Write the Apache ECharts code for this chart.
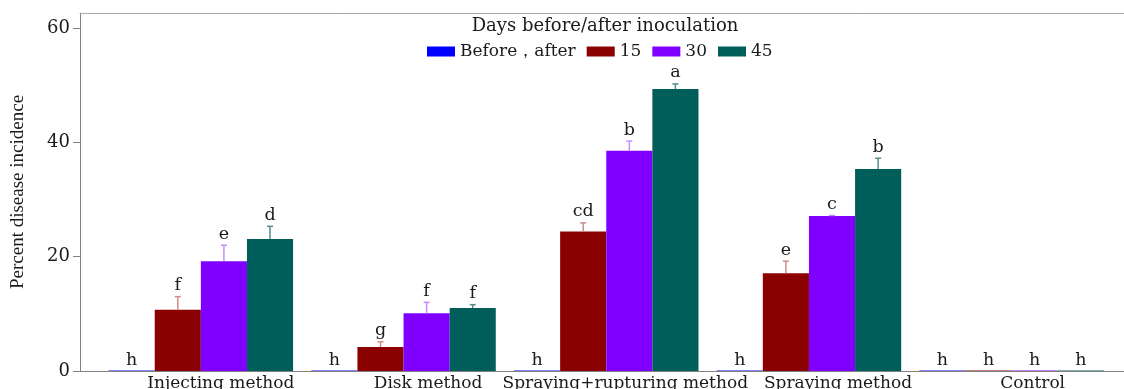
<!DOCTYPE html>
<html><head><meta charset="utf-8">
<script src="https://cdn.jsdelivr.net/npm/echarts@6/dist/echarts.min.js"></script>
<style>html,body{margin:0;padding:0;background:#fff}#c{width:1124px;height:389px}</style>
</head><body><div id="c"></div>
<script>
const categories = ['Injecting method','Disk method','Spraying+rupturing method','Spraying method','Control'];
const seriesNames = ['Before\uff0cafter','15','30','45'];
const valBefore = [0,0,0,0,0];
const val15 = [10.7, 4.2, 24.4, 17.1, 0];
const val30 = [19.2, 10.1, 38.5, 27.1, 0];
const val45 = [23.1, 11.0, 49.3, 35.3, 0];
const errBefore = [0,0,0,0,0];
const err15 = [2.3, 0.9, 1.5, 2.1, 0];
const err30 = [2.8, 1.9, 1.7, 0.1, 0];
const err45 = [2.2, 0.6, 0.9, 1.9, 0];
const letBefore = ['h','h','h','h','h'];
const let15 = ['f','g','cd','e','h'];
const let30 = ['e','f','b','c','h'];
const let45 = ['d','f','a','b','h'];
const yTicks = [0,20,40,60];

const values = [valBefore, val15, val30, val45];
const errs = [errBefore, err15, err30, err45];
const letters = [letBefore, let15, let30, let45];
const colors = ['#0000ff','#8b0000','#8000ff','#005e5a'];
const errColors = ['#8080ff','#d08a8a','#c68cff','#4f8f8c'];
const labelShift = [40, 49, 38, 58, 42];
const GAP = 0.09;
const FONT = 'DejaVu Serif';
const YMAX = 62.6;

function makeRender(k){
  return function(params, api){
    const ci = api.value(0), v = api.value(1), e = api.value(2);
    const band = api.size([1,0])[0];
    const bw = band*(1-GAP)/4;
    const c = api.coord([ci, v]);
    const x = c[0] + (k-1.5)*bw;
    const top = api.coord([ci, v+e])[1];
    const ch = [];
    if (e > 0) {
      ch.push({type:'line', shape:{x1:x,y1:c[1],x2:x,y2:top}, style:{stroke:errColors[k], lineWidth:1.5}});
      ch.push({type:'line', shape:{x1:x-3,y1:top,x2:x+3,y2:top}, style:{stroke:errColors[k], lineWidth:1.5}});
    }
    ch.push({type:'text', style:{text: letters[k][params.dataIndex], x:x, y:top-2, align:'center', verticalAlign:'bottom', fontFamily:FONT, fontSize:17.5, fill:'#1a1a1a'}});
    return {type:'group', children: ch};
  };
}

const series = [];
for (let k=0;k<4;k++){
  series.push({type:'bar', name:seriesNames[k], xAxisIndex:2, yAxisIndex:1, data:values[k],
    itemStyle:{color:colors[k]}, barGap:'0%', barCategoryGap:(GAP*100)+'%', barMinHeight:0.6, z:3});
}
for (let k=0;k<4;k++){
  series.push({type:'custom', xAxisIndex:2, yAxisIndex:1, z:4,
    data: categories.map((_,i)=>[i, values[k][i], errs[k][i]]),
    encode:{x:0,y:1}, renderItem: makeRender(k), silent:true});
}

const chart = echarts.init(document.getElementById('c'));
chart.setOption({
  animation:false,
  backgroundColor:'#fff',
  grid:[
    {left:80, right:0, top:13, bottom:18, outerBoundsMode:'none', containLabel:false},
    {left:99.5, right:11, top:13, bottom:18, outerBoundsMode:'none', containLabel:false}
  ],
  graphic:[{type:'text', x:605, y:26, style:{text:'Days before/after inoculation', align:'center', verticalAlign:'middle', fontFamily:FONT, fontSize:18, fill:'#1a1a1a'}}],
  legend:{data:seriesNames, left:422, top:38, itemWidth:28, itemHeight:10, itemGap:11, icon:'rect',
    textStyle:{fontFamily:FONT, fontSize:17, color:'#1a1a1a'}},
  xAxis:[
    {gridIndex:0, type:'value', min:0, max:1, position:'bottom', axisLine:{show:true, onZero:false, lineStyle:{color:'#808080', width:1}}, axisTick:{show:false}, axisLabel:{show:false}, splitLine:{show:false}},
    {gridIndex:0, type:'value', min:0, max:1, position:'top', axisLine:{show:true, onZero:false, lineStyle:{color:'#a8a8a8', width:1}}, axisTick:{show:false}, axisLabel:{show:false}, splitLine:{show:false}},
    {gridIndex:1, type:'category',
      data: categories.map((c,i)=>({value:c, textStyle:{padding:[0,0,0,labelShift[i]]}})),
      axisLine:{show:false}, axisTick:{show:false}, splitLine:{show:false},
      axisLabel:{interval:0, margin:4, fontFamily:FONT, fontSize:17, color:'#1a1a1a'}}
  ],
  yAxis:[
    {gridIndex:0, type:'value', min:0, max:YMAX, interval:20,
      name:'Percent disease incidence', nameLocation:'middle', nameGap:52, nameRotate:90,
      nameTextStyle:{fontFamily:'Liberation Serif', fontSize:19, color:'#1a1a1a'},
      axisLine:{show:true, onZero:false, lineStyle:{color:'#808080', width:1}},
      axisTick:{show:true, length:7, customValues:yTicks, lineStyle:{color:'#808080'}},
      axisLabel:{customValues:yTicks, margin:10, fontFamily:FONT, fontSize:18, color:'#1a1a1a'},
      splitLine:{show:false}},
    {gridIndex:1, type:'value', min:0, max:YMAX, show:false, splitLine:{show:false}}
  ],
  series: series
});
</script></body></html>
